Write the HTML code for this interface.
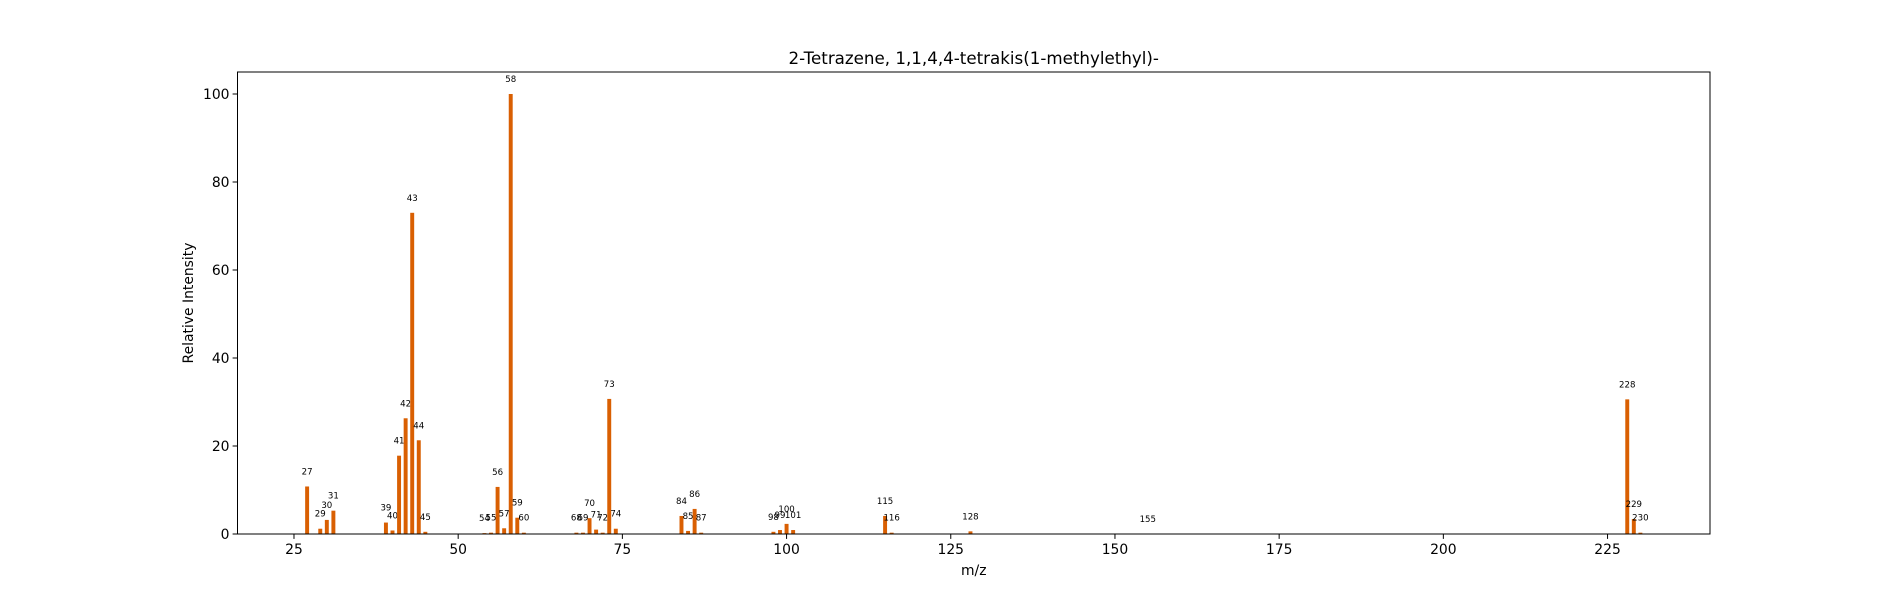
<!DOCTYPE html>
<html><head><meta charset="utf-8"><style>
html,body{margin:0;padding:0;background:#fff;}
svg{display:block;font-family:"DejaVu Sans","Liberation Sans",sans-serif;}
</style></head><body>
<svg id="chart" width="1900" height="600" xmlns="http://www.w3.org/2000/svg"></svg>
<script>
const mzValues = [27,29,30,31,39,40,41,42,43,44,45,54,55,56,57,58,59,60,68,69,70,71,72,73,74,84,85,86,87,98,99,100,101,115,116,128,155,228,229,230];
const intensities = [10.8,1.2,3.2,5.3,2.6,0.8,17.8,26.3,73,21.3,0.5,0.2,0.3,10.7,1.3,100,3.7,0.3,0.3,0.3,3.6,1.0,0.3,30.7,1.2,4.1,0.7,5.7,0.3,0.5,0.9,2.3,0.9,4.1,0.3,0.6,0.05,30.6,3.4,0.3];
const xTicks = [25,50,75,100,125,150,175,200,225];
const yTicks = [0,20,40,60,80,100];

const NS = "http://www.w3.org/2000/svg";
const svg = document.getElementById('chart');
const L = 237.5, R = 1710, T = 72, B = 534;
const xMin = 16.4, xMax = 240.6, yMin = 0, yMax = 105;
const xs = v => L + (v - xMin) / (xMax - xMin) * (R - L);
const ys = v => B - (v - yMin) / (yMax - yMin) * (B - T);
function mk(tag, attrs, text) {
  const e = document.createElementNS(NS, tag);
  for (const k in attrs) e.setAttribute(k, attrs[k]);
  if (text !== undefined) e.textContent = text;
  svg.appendChild(e);
  return e;
}
const barW = 0.6;
mzValues.forEach((m, i) => {
  const v = intensities[i];
  const r = mk('rect', {x: xs(m - barW / 2), y: ys(v), width: xs(m + barW / 2) - xs(m - barW / 2), height: B - ys(v), fill: '#d95f02'});
  
  
  const t = mk('text', {x: xs(m), y: ys(v + 3.3), 'font-size': '8.6', 'text-anchor': 'middle', 'dominant-baseline': 'middle', fill: '#000'}, String(m));
  
  
});
xTicks.forEach(v => {
  const l = mk('line', {x1: xs(v), x2: xs(v), y1: B, y2: B + 4.9, stroke: '#000', 'stroke-width': 1});
  
  
  const t = mk('text', {x: xs(v), y: B + 20, 'font-size': '13.9', 'text-anchor': 'middle'}, String(v));
  
  
});
yTicks.forEach(v => {
  const l = mk('line', {x1: L - 4.9, x2: L, y1: ys(v), y2: ys(v), stroke: '#000', 'stroke-width': 1});
  
  
  const t = mk('text', {x: L - 8, y: ys(v) + 5, 'font-size': '13.9', 'text-anchor': 'end'}, String(v));
  
  
});
const frame = mk('rect', {x: L, y: T, width: R - L, height: B - T, fill: 'none', stroke: '#000', 'stroke-width': 1});


const title = mk('text', {x: (L + R) / 2, y: 64, 'font-size': '16.7', 'text-anchor': 'middle'}, '2-Tetrazene, 1,1,4,4-tetrakis(1-methylethyl)-');


const xl = mk('text', {x: (L + R) / 2, y: 575, 'font-size': '13.9', 'text-anchor': 'middle'}, 'm/z');


const yl = mk('text', {x: 0, y: 0, 'font-size': '13.9', 'text-anchor': 'middle', transform: 'translate(193,' + ((T + B) / 2) + ') rotate(-90)'}, 'Relative Intensity');


</script>
</body></html>
